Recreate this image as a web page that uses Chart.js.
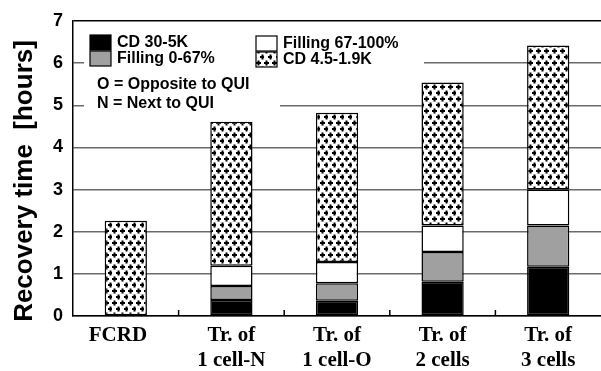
<!DOCTYPE html>
<html>
<head>
<meta charset="utf-8">
<script src="https://cdn.jsdelivr.net/npm/chart.js"></script>
<style>
  html, body { margin: 0; padding: 0; background: #fff; }
  #wrap { width: 601px; height: 371px; }
</style>
</head>
<body>
<div id="wrap"><canvas id="myChart"></canvas></div>
<script>
// recovery time per case, stacked in hours
const cases = [['FCRD   '], ['Tr. of', '1 cell-N'], ['Tr. of', '1 cell-O'], ['Tr. of', '2 cells'], ['Tr. of', '3 cells']];
const cdHigh = [0, 0.38, 0.36, 0.81, 1.17];        // CD 30-5K
const fillLow = [0, 0.33, 0.42, 0.71, 0.98];       // Filling 0-67%
const fillHigh = [0, 0.48, 0.50, 0.63, 0.85];      // Filling 67-100%
const cdLow = [2.26, 3.42, 3.54, 3.39, 3.42];      // CD 4.5-1.9K
const seriesNames = ['CD 30-5K', 'Filling 0-67%', 'Filling 67-100%', 'CD 4.5-1.9K'];
const notes = ['O = Opposite to QUI', 'N = Next to QUI'];
const yTicks = [0, 1, 2, 3, 4, 5, 6, 7];
const yTitle = 'Recovery time  [hours]';

// plus pattern for the CD 4.5-1.9K part
function plusPattern() {
  const c = document.createElement('canvas');
  c.width = 8; c.height = 12;
  const g = c.getContext('2d');
  g.fillStyle = '#fff';
  g.fillRect(0, 0, 8, 12);
  g.fillStyle = '#000';
  const plus = (x, y) => { g.fillRect(x, y + 1.5, 5, 2); g.fillRect(x + 1.5, y, 2, 5); };
  plus(0, 0.5);
  plus(4, 6.5);
  return g.createPattern(c, 'repeat');
}
const dots = plusPattern();

// legend in the upper left box, y title and the tick marks between groups
const boxLegend = {
  id: 'boxLegend',
  afterDraw(chart) {
    const ctx = chart.ctx;
    const xs = chart.scales.x;
    const area = chart.chartArea;
    ctx.save();
    // small ticks between the groups
    ctx.strokeStyle = '#000';
    ctx.lineWidth = 1.5;
    for (let i = 1; i < cases.length; i++) {
      const x = (xs.getPixelForTick(i - 1) + xs.getPixelForTick(i)) / 2;
      ctx.beginPath();
      ctx.moveTo(x, area.bottom);
      ctx.lineTo(x, area.bottom - 6);
      ctx.stroke();
    }
    // y title
    ctx.save();
    ctx.translate(25, 181);
    ctx.rotate(-Math.PI / 2);
    ctx.font = 'bold 26px "Liberation Sans"';
    ctx.textAlign = 'center';
    ctx.textBaseline = 'middle';
    ctx.fillStyle = '#000';
    ctx.fillText(yTitle, 0, 0);
    ctx.restore();

    ctx.fillStyle = '#fff';
    ctx.fillRect(84, 24, 340, 45);
    ctx.fillRect(84, 69, 196, 44);
    const pos = [[90, 35], [90, 51], [256, 36], [256, 52]];
    ctx.font = 'bold 16px "Liberation Sans"';
    ctx.textBaseline = 'middle';
    chart.data.datasets.forEach((ds, i) => {
      const [x, y] = pos[i];
      ctx.fillStyle = ds.backgroundColor;
      ctx.fillRect(x, y, 21, 15);
      ctx.strokeStyle = '#000';
      ctx.lineWidth = 1.2;
      ctx.strokeRect(x, y, 21, 15);
      ctx.fillStyle = '#000';
      ctx.fillText(ds.label, x + 27, y + 8);
    });
    ctx.fillText(notes[0], 97, 85);
    ctx.fillText(notes[1], 97, 104);
    ctx.restore();
  }
};

const colors = ['#000000', '#a0a0a0', '#ffffff', dots];
const values = [cdHigh, fillLow, fillHigh, cdLow];

new Chart(document.getElementById('myChart'), {
  type: 'bar',
  data: {
    labels: cases,
    datasets: values.map((v, i) => ({
      label: seriesNames[i],
      data: v,
      backgroundColor: colors[i],
      borderColor: '#000',
      borderWidth: 1.5,
      borderSkipped: false,
      barPercentage: 0.4,
      categoryPercentage: 1
    }))
  },
  options: {
    responsive: true,
    maintainAspectRatio: false,
    animation: false,
    layout: { padding: { top: 21, right: 0, left: 0, bottom: 0 } },
    plugins: { legend: { display: false }, tooltip: { enabled: false } },
    scales: {
      x: {
        stacked: true,
        grid: { display: false },
        border: { color: '#000', width: 1.5 },
        ticks: {
          color: '#000',
          padding: 0,
          maxRotation: 0,
          font: { family: '"Liberation Serif"', weight: 'bold', size: 21, lineHeight: 1.15 }
        },
        afterFit(s) { s.height = 55; }
      },
      y: {
        stacked: true,
        min: 0,
        max: 7,
        afterBuildTicks(s) { s.ticks = yTicks.map(v => ({ value: v })); },
        grid: {
          drawTicks: false,
          color: c => c.tick && c.tick.value === 7 ? '#000' : '#6a6a6a',
          lineWidth: 1.5
        },
        border: { color: '#000', width: 1.5 },
        ticks: {
          color: '#000',
          padding: 10,
          font: { family: '"Liberation Sans"', weight: 'bold', size: 18 }
        },
        afterFit(s) { s.width = 73; }
      }
    }
  },
  plugins: [boxLegend]
});
</script>
</body>
</html>
